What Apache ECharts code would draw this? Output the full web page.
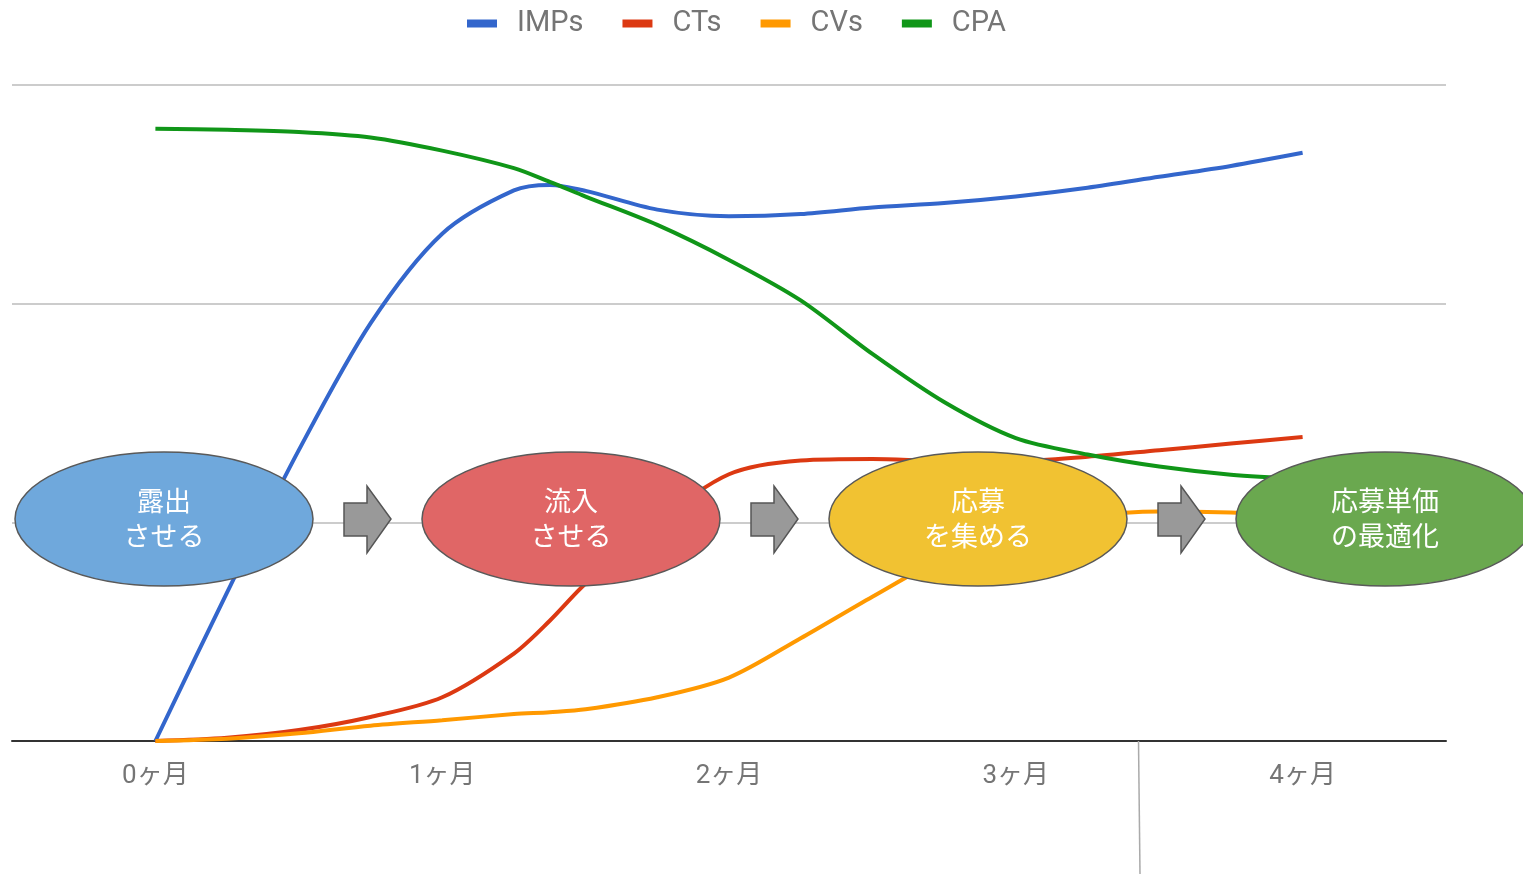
<!DOCTYPE html>
<html>
<head>
<meta charset="utf-8">
<title>IMPs / CTs / CVs / CPA</title>
<script src="https://cdn.jsdelivr.net/npm/echarts@6/dist/echarts.min.js"></script>
<style>
  html, body { margin: 0; padding: 0; background: #fff; }
  #chart { width: 1523px; height: 874px; }
</style>
</head>
<body>
<div id="chart"></div>
<script>
// 横軸（月）
const months = [0, 0.25, 0.5, 0.75, 1, 1.25, 1.375, 1.5, 1.75, 2, 2.25, 2.5, 2.75, 3, 3.25, 3.5, 3.75, 4];
const monthLabels = ['0ヶ月', '1ヶ月', '2ヶ月', '3ヶ月', '4ヶ月'];

// 各指標
const imps = [0, 68, 133, 191, 232, 251.8, 254.3, 251.6, 243, 240, 241, 244, 246, 249, 253, 258, 263, 269];
const cts  = [0, 1.5, 5, 11, 20, 40, 55, 72, 100, 122, 128.3, 129, 128, 128, 130, 133, 136, 139];
const cvs  = [0, 1, 3.5, 7, 9.5, 12.3, 13.2, 14.5, 20, 29, 47, 66, 84, 96, 102.5, 105, 104.5, 103];
const cpa  = [280, 279.5, 278.5, 276, 270, 262, 255.7, 249, 236, 220, 201.5, 177, 155, 138.5, 131, 125.5, 121.8, 120];

// フェーズ
const phases = ['露出\nさせる', '流入\nさせる', '応募\nを集める', '応募単価\nの最適化'];
const phaseColors = ['#6fa8dc', '#e06666', '#f1c232', '#6aa84f'];

const seriesDefs = [
  { name: 'IMPs', values: imps, color: '#3366cc' },
  { name: 'CTs', values: cts, color: '#dc3912' },
  { name: 'CVs', values: cvs, color: '#ff9900' },
  { name: 'CPA', values: cpa, color: '#109618' }
];

const fontFamily = 'Roboto, "Noto Sans CJK JP", sans-serif';

const chart = echarts.init(document.getElementById('chart'));

// 楕円と矢印
const graphics = [];
phases.forEach((text, i) => {
  const cx = 164 + i * 407;
  graphics.push({
    type: 'ellipse',
    z: 100,
    shape: { cx: cx, cy: 519, rx: 149, ry: 67 },
    style: { fill: phaseColors[i], stroke: '#595959', lineWidth: 1.5 }
  });
  graphics.push({
    type: 'text',
    z: 101,
    x: cx,
    y: 522,
    style: {
      text: text,
      fill: '#fff',
      font: '27px ' + fontFamily,
      lineHeight: 35,
      align: 'center',
      verticalAlign: 'middle'
    }
  });
  if (i < phases.length - 1) {
    const ax = 344 + i * 407;
    graphics.push({
      type: 'polygon',
      z: 100,
      shape: {
        points: [
          [ax, 503], [ax + 23, 503], [ax + 23, 486], [ax + 47, 519],
          [ax + 23, 553], [ax + 23, 536], [ax, 536]
        ]
      },
      style: { fill: '#999', stroke: '#555', lineWidth: 1.5 }
    });
  }
});
// 縦線
graphics.push({
  type: 'line',
  z: 100,
  shape: { x1: 1138.5, y1: 741, x2: 1140, y2: 874 },
  style: { stroke: '#aaa', lineWidth: 1.5 }
});

chart.setOption({
  animation: false,
  color: seriesDefs.map(s => s.color),
  legend: {
    top: 4,
    left: 462,
    icon: 'rect',
    itemWidth: 30,
    itemHeight: 8,
    itemGap: 39,
    textStyle: {
      fontSize: 29,
      color: '#757575',
      fontFamily: fontFamily,
      padding: [0, 0, 0, 15]
    },
    data: seriesDefs.map(s => s.name)
  },
  grid: {
    left: 12,
    right: 77,
    top: 85,
    bottom: 133
  },
  xAxis: {
    type: 'value',
    min: -0.5,
    max: 4.5,
    interval: 0.5,
    axisLine: { show: true, onZero: false, lineStyle: { color: '#333', width: 2 } },
    axisTick: { show: false },
    splitLine: { show: false },
    axisLabel: {
      margin: 22,
      fontSize: 26,
      color: '#757575',
      fontFamily: fontFamily,
      showMinLabel: false,
      showMaxLabel: false,
      formatter: v => (Number.isInteger(v) && v >= 0 && v <= 4) ? monthLabels[v] : ''
    }
  },
  yAxis: {
    type: 'value',
    min: 0,
    max: 300,
    interval: 100,
    axisLine: { show: false },
    axisTick: { show: false },
    axisLabel: { show: false },
    splitLine: { lineStyle: { color: '#cccccc', width: 2 } }
  },
  series: seriesDefs.map(s => ({
    name: s.name,
    type: 'line',
    smooth: 0.3,
    showSymbol: false,
    lineStyle: { width: 4, color: s.color },
    itemStyle: { color: s.color },
    data: months.map((m, i) => [m, s.values[i]])
  })),
  graphic: graphics
});
</script>
</body>
</html>
